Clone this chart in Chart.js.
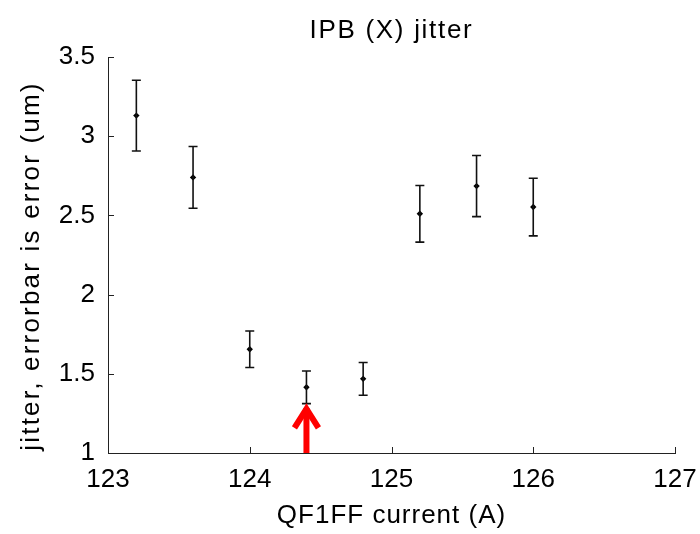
<!DOCTYPE html>
<html>
<head>
<meta charset="utf-8">
<script src="https://cdn.jsdelivr.net/npm/chart.js@4"></script>
<style>
  html, body { margin: 0; padding: 0; background: #fff; }
  #wrap { width: 700px; height: 534px; }
</style>
</head>
<body>
<div id="wrap"><canvas id="jitterChart"></canvas></div>
<script>
// QF1FF scan data
var current = [123.2, 123.6, 124.0, 124.4, 124.8, 125.2, 125.6, 126.0];
var jitter  = [3.13, 2.74, 1.655, 1.415, 1.468, 2.51, 2.685, 2.553];
var errs    = [0.223, 0.195, 0.115, 0.103, 0.103, 0.179, 0.193, 0.182];

var xTicks = [123, 124, 125, 126, 127];
var yTicks = [1, 1.5, 2, 2.5, 3, 3.5];

var titleText = 'IPB (X) jitter';
var xTitle = 'QF1FF current (A)';
var yTitle = 'jitter, errorbar is error (um)';

// red arrow marking the chosen setting
var arrowX = 124.4;
var arrowTip = 1.297;

var FONT = 'Liberation Sans, Arial, sans-serif';

var points = [];
for (var i = 0; i < current.length; i++) {
  points.push({ x: current[i], y: jitter[i] });
}

// error bars, inward ticks, arrow and the titles (matlab-ish spacing)
var extrasPlugin = {
  id: 'extras',
  afterDatasetsDraw: function (chart) {
    var ctx = chart.ctx;
    var xs = chart.scales.x, ys = chart.scales.y;
    var area = chart.chartArea;
    ctx.save();

    // inward tick marks
    ctx.strokeStyle = '#222';
    ctx.lineWidth = 1;
    ctx.beginPath();
    xTicks.forEach(function (t) {
      var px = Math.round(xs.getPixelForValue(t)) + 0.5;
      ctx.moveTo(px, area.bottom);
      ctx.lineTo(px, area.bottom - 6);
    });
    yTicks.forEach(function (t) {
      var py = Math.round(ys.getPixelForValue(t)) + 0.5;
      ctx.moveTo(area.left, py);
      ctx.lineTo(area.left + 6, py);
    });
    ctx.stroke();

    // error bars
    ctx.strokeStyle = '#111';
    ctx.lineWidth = 1.6;
    for (var i = 0; i < current.length; i++) {
      var px = xs.getPixelForValue(current[i]);
      var top = ys.getPixelForValue(jitter[i] + errs[i]);
      var bot = ys.getPixelForValue(jitter[i] - errs[i]);
      ctx.beginPath();
      ctx.moveTo(px, top); ctx.lineTo(px, bot);
      ctx.moveTo(px - 4.5, top); ctx.lineTo(px + 4.5, top);
      ctx.moveTo(px - 4.5, bot); ctx.lineTo(px + 4.5, bot);
      ctx.stroke();
    }

    // arrow
    var ax = xs.getPixelForValue(arrowX);
    var tip = ys.getPixelForValue(arrowTip);
    var base = ys.getPixelForValue(ys.min);
    ctx.strokeStyle = '#ff0000';
    ctx.lineWidth = 6;
    ctx.lineJoin = 'miter';
    ctx.beginPath();
    ctx.moveTo(ax, base);
    ctx.lineTo(ax, tip + 2);
    ctx.stroke();
    ctx.beginPath();
    ctx.moveTo(ax - 12, tip + 22);
    ctx.lineTo(ax, tip + 3);
    ctx.lineTo(ax + 12, tip + 22);
    ctx.stroke();

    // titles
    var cx = (area.left + area.right) / 2;
    ctx.fillStyle = '#000';
    ctx.font = '26px ' + FONT;
    ctx.textAlign = 'center';
    ctx.textBaseline = 'alphabetic';
    ctx.letterSpacing = '1.7px';
    ctx.fillText(titleText, cx, 38);
    ctx.letterSpacing = '1px';
    ctx.fillText(xTitle, cx, 523);
    ctx.translate(39, (area.top + area.bottom) / 2 + 11);
    ctx.rotate(-Math.PI / 2);
    ctx.letterSpacing = '2.2px';
    ctx.fillText(yTitle, 0, 0);
    ctx.restore();
  }
};

var config = {
  type: 'scatter',
  data: {
    datasets: [{
      label: 'jitter',
      data: points,
      pointStyle: 'rectRot',
      pointRadius: 3.2,
      pointBackgroundColor: '#000',
      pointBorderColor: '#000',
      pointBorderWidth: 0
    }]
  },
  options: {
    responsive: true,
    maintainAspectRatio: false,
    animation: false,
    layout: { padding: { top: 57, right: 25, left: 0, bottom: 0 } },
    plugins: {
      legend: { display: false },
      tooltip: { enabled: false },
      title: { display: false }
    },
    scales: {
      x: {
        type: 'linear',
        min: xTicks[0],
        max: xTicks[xTicks.length - 1],
        afterBuildTicks: function (s) { s.ticks = xTicks.map(function (v) { return { value: v }; }); },
        afterFit: function (s) { s.height = 81; s.paddingLeft = 0; s.paddingRight = 0; },
        grid: { display: false, drawTicks: false },
        border: { display: true, color: '#222', width: 1 },
        ticks: {
          color: '#000', padding: 11, maxRotation: 0,
          font: { family: FONT, size: 26 },
          callback: function (v) { return String(v); }
        }
      },
      y: {
        type: 'linear',
        min: yTicks[0],
        max: yTicks[yTicks.length - 1],
        afterBuildTicks: function (s) { s.ticks = yTicks.map(function (v) { return { value: v }; }); },
        afterFit: function (s) { s.width = 108; s.paddingTop = 0; s.paddingBottom = 0; },
        grid: { display: false, drawTicks: false },
        border: { display: true, color: '#222', width: 1 },
        ticks: {
          color: '#000', padding: 13,
          font: { family: FONT, size: 26 },
          callback: function (v) { return String(v); }
        }
      }
    }
  },
  plugins: [extrasPlugin]
};

var jitterChart = new Chart(document.getElementById('jitterChart'), config);
</script>
</body>
</html>
